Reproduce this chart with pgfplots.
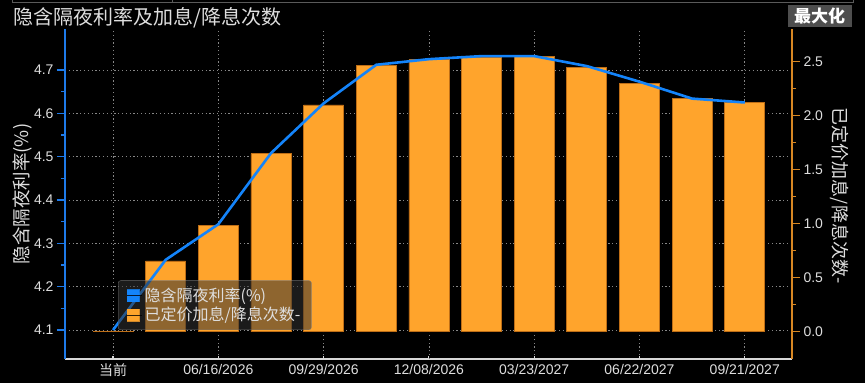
\documentclass[border=0pt]{standalone}
\usepackage{pgfplots}
\pgfplotsset{compat=1.18}
\usepackage{fontspec}
\setmainfont{Liberation Sans}
\newfontfamily\cjk{Noto Sans CJK SC}
\definecolor{bgtext}{RGB}{222,222,222}
\definecolor{lineblue}{RGB}{20,132,250}
\definecolor{axblue}{RGB}{30,122,232}
\definecolor{barorange}{RGB}{255,164,44}
\definecolor{baredge}{RGB}{190,110,22}
\definecolor{axorange}{RGB}{215,135,35}
\definecolor{gridgray}{RGB}{135,135,135}
\definecolor{xaxgray}{RGB}{215,215,215}
\definecolor{legbg}{RGB}{50,50,50}
\definecolor{btngray}{RGB}{78,78,78}
\definecolor{framegray}{RGB}{90,90,90}
\pgfplotsset{
  common/.style={
    scale only axis, width=727pt, height=330pt,
    xmin=-0.912, xmax=12.897,
    tick align=outside, major tick length=8pt, minor tick length=4pt,
    yticklabel style={font=\fontsize{14}{14}\selectfont, text=bgtext},
    xticklabel style={font=\fontsize{14}{14}\selectfont, text=bgtext, yshift=-1.5pt},
    /pgf/number format/fixed, /pgf/number format/fixed zerofill,
    /pgf/number format/precision=1, /pgf/number format/assume math mode=true,
  }
}
\begin{document}
\begin{tikzpicture}[x=1pt,y=1pt]
\path[use as bounding box, fill=black] (-65,-24) rectangle (800,359);
\draw[framegray, line width=0.8pt] (-53,359) -- (-53,356.5) -- (788,356.5) -- (788,359);
\draw[framegray, line width=0.8pt] (107,359) -- (107,356.5);
\node[anchor=west, text=bgtext, font=\cjk\fontsize{20}{22}\selectfont, inner sep=0pt] at (-52,341.5) {隐含隔夜利率及加息/降息次数};
\fill[btngray] (722.7,332.3) rectangle (786.7,354);
\node[text=white, font=\cjk\bfseries\fontsize{17}{18}\selectfont, inner sep=0pt] at (754.7,343.2) {最大化};
% axis A: left axis, grid, x axis
\begin{axis}[common,
  ymin=4.0331, ymax=4.7946,
  axis x line*=bottom, axis y line*=left,
  x axis line style={draw=xaxgray, line width=1.2pt, -},
  y axis line style={draw=axblue, line width=1.4pt, -},
  xtick=\empty,
  extra x ticks={0,2,4,6,8,10,12},
  extra x tick labels={{\cjk 当前},06/16/2026,09/29/2026,12/08/2026,03/23/2027,06/22/2027,09/21/2027},
  extra x tick style={grid=major, major tick length=3pt, tick align=inside, tick style={xaxgray, line width=1.2pt}},
  ytick={4.1,4.2,4.3,4.4,4.5,4.6,4.7},
  minor y tick num=1,
  ymajorgrids,
  grid style={gridgray, dash pattern=on 1.2pt off 2.6pt, line width=0.7pt},
  tick style={axblue, line width=1.4pt},
  ylabel={\cjk 隐含隔夜利率(\%)},
  ylabel style={at={(axis description cs:-0.059,0.5)}, anchor=center, font=\cjk\fontsize{18.5}{19}\selectfont, text=bgtext},
]
\end{axis}
% axis B: bars, right axis
\begin{axis}[common,
  ymin=-0.253, ymax=2.803,
  axis y line*=right, axis x line=none,
  y axis line style={draw=axorange, line width=1.4pt, -},
  ytick={0,0.5,1,1.5,2,2.5}, minor y tick num=1,
  tick style={axorange, line width=1.4pt},
  ylabel={\cjk 已定价加息/降息次数-},
  ylabel style={at={(axis description cs:1.066,0.495)}, anchor=center, rotate=180, font=\cjk\fontsize{18}{19}\selectfont, text=bgtext},
]
\addplot[ybar, bar width=40pt, fill=barorange, draw=baredge, line width=0.7pt] coordinates {
 (0,0.005) (1,0.655) (2,0.985) (3,1.648) (4,2.10) (5,2.467) (6,2.52)
 (7,2.54) (8,2.546) (9,2.448) (10,2.30) (11,2.157) (12,2.124)};
\end{axis}
% axis C: line + legend
\begin{axis}[common,
  ymin=4.0331, ymax=4.7946,
  hide axis,
  legend cell align=left,
  legend style={at={(0.0729,0.0879)}, anchor=south west, fill=legbg, fill opacity=0.55, draw=gray, draw opacity=0.8, text opacity=1, rounded corners=2.5pt, font=\cjk\fontsize{16}{17}\selectfont, text=bgtext, inner xsep=9pt, inner ysep=5.5pt, row sep=0pt},
]
\addlegendimage{legend image code/.code={\fill[lineblue, fill opacity=1, sharp corners] (0pt,-6pt) rectangle (12pt,6pt); \path (0pt,0pt) -- (15pt,0pt);}}
\addlegendentry{隐含隔夜利率(\%)}
\addlegendimage{legend image code/.code={\fill[barorange, fill opacity=1, sharp corners] (0pt,-6pt) rectangle (12pt,6pt); \path (0pt,0pt) -- (15pt,0pt);}}
\addlegendentry{已定价加息/降息次数-}
\addplot[lineblue, line width=2.6pt, line join=round, forget plot] coordinates {
 (0,4.100) (1,4.262) (2,4.344) (3,4.508) (4,4.623) (5,4.712) (6,4.725)
 (7,4.732) (8,4.732) (9,4.709) (10,4.673) (11,4.634) (12,4.625)};
\end{axis}
\end{tikzpicture}
\end{document}
